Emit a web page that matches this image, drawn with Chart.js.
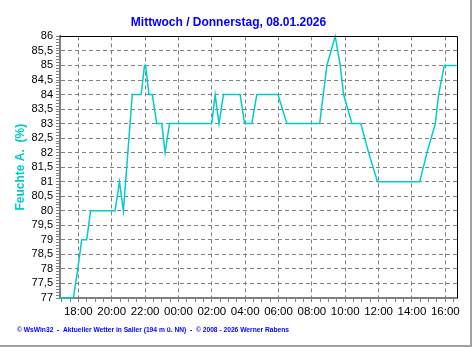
<!DOCTYPE html>
<html>
<head>
<meta charset="utf-8">
<script src="https://cdn.jsdelivr.net/npm/chart.js@4/dist/chart.umd.min.js"></script>
<style>
  html, body { margin: 0; padding: 0; background: #fff; }
  #wrap { position: relative; width: 472px; height: 347px; }
</style>
</head>
<body>
<div id="wrap"><canvas id="chart"></canvas></div>
<script>
const titleText = "Mittwoch / Donnerstag, 08.01.2026";
const axisTitle = "Feuchte A.  (%)";
const footerText = "\u00a9 WsWin32  -  Aktueller Wetter in Saller (194 m \u00fc. NN)  -  \u00a9 2008 - 2026 Werner Rabens";

// Messzeitpunkte (Mi 16:54 bis Do 16:38) und relative Feuchte in %
const times = ["16:54", "17:42", "17:58", "18:12", "18:30", "18:44", "20:12", "20:28", "20:42", "21:14",
  "21:46", "21:58", "22:02", "22:14", "22:26", "22:42", "23:00", "23:12", "23:28", "02:00",
  "02:12", "02:26", "02:42", "03:42", "03:58", "04:24", "04:42", "05:58", "06:30", "08:28",
  "08:54", "09:24", "09:42", "09:54", "10:24", "10:56", "11:24", "11:56", "14:28", "14:54",
  "15:24", "15:36", "15:56", "16:38"];
const humidity = [77, 77, 78, 79, 79, 80, 80, 81, 80, 84,
  84, 85, 85, 84, 84, 83, 83, 82, 83, 83,
  84, 83, 84, 84, 83, 83, 84, 84, 83, 83,
  85, 86, 85, 84, 83, 83, 82, 81, 81, 82,
  83, 84, 85, 85];

const xTickLabels = ["18:00", "20:00", "22:00", "00:00", "02:00", "04:00", "06:00", "08:00", "10:00", "12:00", "14:00", "16:00"];
const yTickLabels = ["77", "77,5", "78", "78,5", "79", "79,5", "80", "80,5", "81", "81,5", "82", "82,5", "83", "83,5", "84", "84,5", "85", "85,5", "86"];

const xStart = "16:54";
const xEnd = "16:42";

// "HH:MM" -> Stunden seit Mittwoch 00:00, Tageswechsel wenn die Uhrzeit zurückspringt
function toHours(list) {
  let day = 0, prev = -1;
  return list.map((t) => {
    const [h, m] = t.split(":").map(Number);
    const v = h + m / 60;
    if (v < prev) day += 24;
    prev = v;
    return v + day;
  });
}

const xs = toHours(times);
const xTickPos = toHours(xTickLabels);
const [xMin, xMax] = toHours([xStart, xEnd]);
const yTickPos = yTickLabels.map((l) => parseFloat(l.replace(",", ".")));

const points = xs.map((x, i) => ({ x: x, y: humidity[i] }));

const xLabelAt = (v) => {
  const i = xTickPos.findIndex((p) => Math.abs(p - v) < 1e-6);
  return i < 0 ? "" : xTickLabels[i];
};
const yLabelAt = (v) => {
  const i = yTickPos.findIndex((p) => Math.abs(p - v) < 1e-6);
  return i < 0 ? "" : yTickLabels[i];
};

const frame = {
  id: "frame",
  afterDraw(chart) {
    const { ctx, chartArea: a } = chart;
    ctx.save();
    ctx.strokeStyle = "#000";
    ctx.lineWidth = 1;
    ctx.beginPath();
    const t = Math.round(a.top) + 0.5, r = Math.round(a.right) + 0.5;
    ctx.moveTo(a.left, t);
    ctx.lineTo(r, t);
    ctx.lineTo(r, a.bottom);
    ctx.stroke();

    // grauer Rand rechts/unten
    ctx.fillStyle = "#a0a0a0";
    ctx.fillRect(470, 0, 2, 347);
    ctx.fillRect(0, 345, 472, 2);

    ctx.fillStyle = "#0000ff";
    ctx.font = 'bold 7px "Liberation Sans"';
    ctx.textBaseline = "middle";
    ctx.fillText(footerText, 17, 330, 272);
    ctx.restore();
  },
};

const ctx = document.getElementById("chart").getContext("2d");

new Chart(ctx, {
  type: "line",
  data: {
    datasets: [{
      data: points,
      borderColor: "#00cccc",
      borderWidth: 1.5,
      pointRadius: 0,
      tension: 0,
      fill: false,
      clip: 3,
    }],
  },
  options: {
    responsive: true,
    maintainAspectRatio: false,
    animation: false,
    layout: { padding: { top: 0, right: 15, bottom: 27, left: 0 } },
    plugins: {
      legend: { display: false },
      tooltip: { enabled: false },
      title: {
        display: true,
        text: titleText,
        color: "#0000ff",
        font: { family: "Liberation Sans", size: 12, weight: "bold" },
        padding: { top: 15, bottom: 7 },
      },
    },
    scales: {
      x: {
        type: "linear",
        min: xMin,
        max: xMax,
        afterFit: (s) => { s.height = 22; },
        border: { display: true, color: "#808080", width: 2, dash: [4, 3] },
        grid: {
          color: (c) => (xLabelAt(c.tick.value) ? "#808080" : "rgba(0,0,0,0)"),
          tickColor: "#808080",
          tickLength: 4,
          lineWidth: 1,
        },
        ticks: {
          stepSize: 0.5,
          includeBounds: false,
          autoSkip: false,
          maxRotation: 0,
          padding: 3,
          color: "#000",
          font: { family: "Liberation Sans", size: 11.5 },
          callback: (v) => xLabelAt(v),
        },
      },
      y: {
        min: 77,
        max: 86,
        afterFit: (s) => { s.width = 60; },
        title: {
          display: true,
          text: axisTitle,
          color: "#00cccc",
          font: { family: "Liberation Sans", size: 12, weight: "bold" },
          padding: { top: 13, bottom: 0 },
        },
        border: { display: true, color: "#808080", width: 2, dash: [4, 3] },
        grid: {
          color: (c) => (yLabelAt(c.tick.value) ? "#808080" : "rgba(0,0,0,0)"),
          tickColor: "#808080",
          tickLength: 4,
          lineWidth: 1,
        },
        ticks: {
          stepSize: 0.1,
          autoSkip: false,
          padding: 3,
          color: "#000",
          font: { family: "Liberation Sans", size: 11 },
          callback: (v) => yLabelAt(v),
        },
      },
    },
  },
  plugins: [frame],
});
</script>
</body>
</html>
